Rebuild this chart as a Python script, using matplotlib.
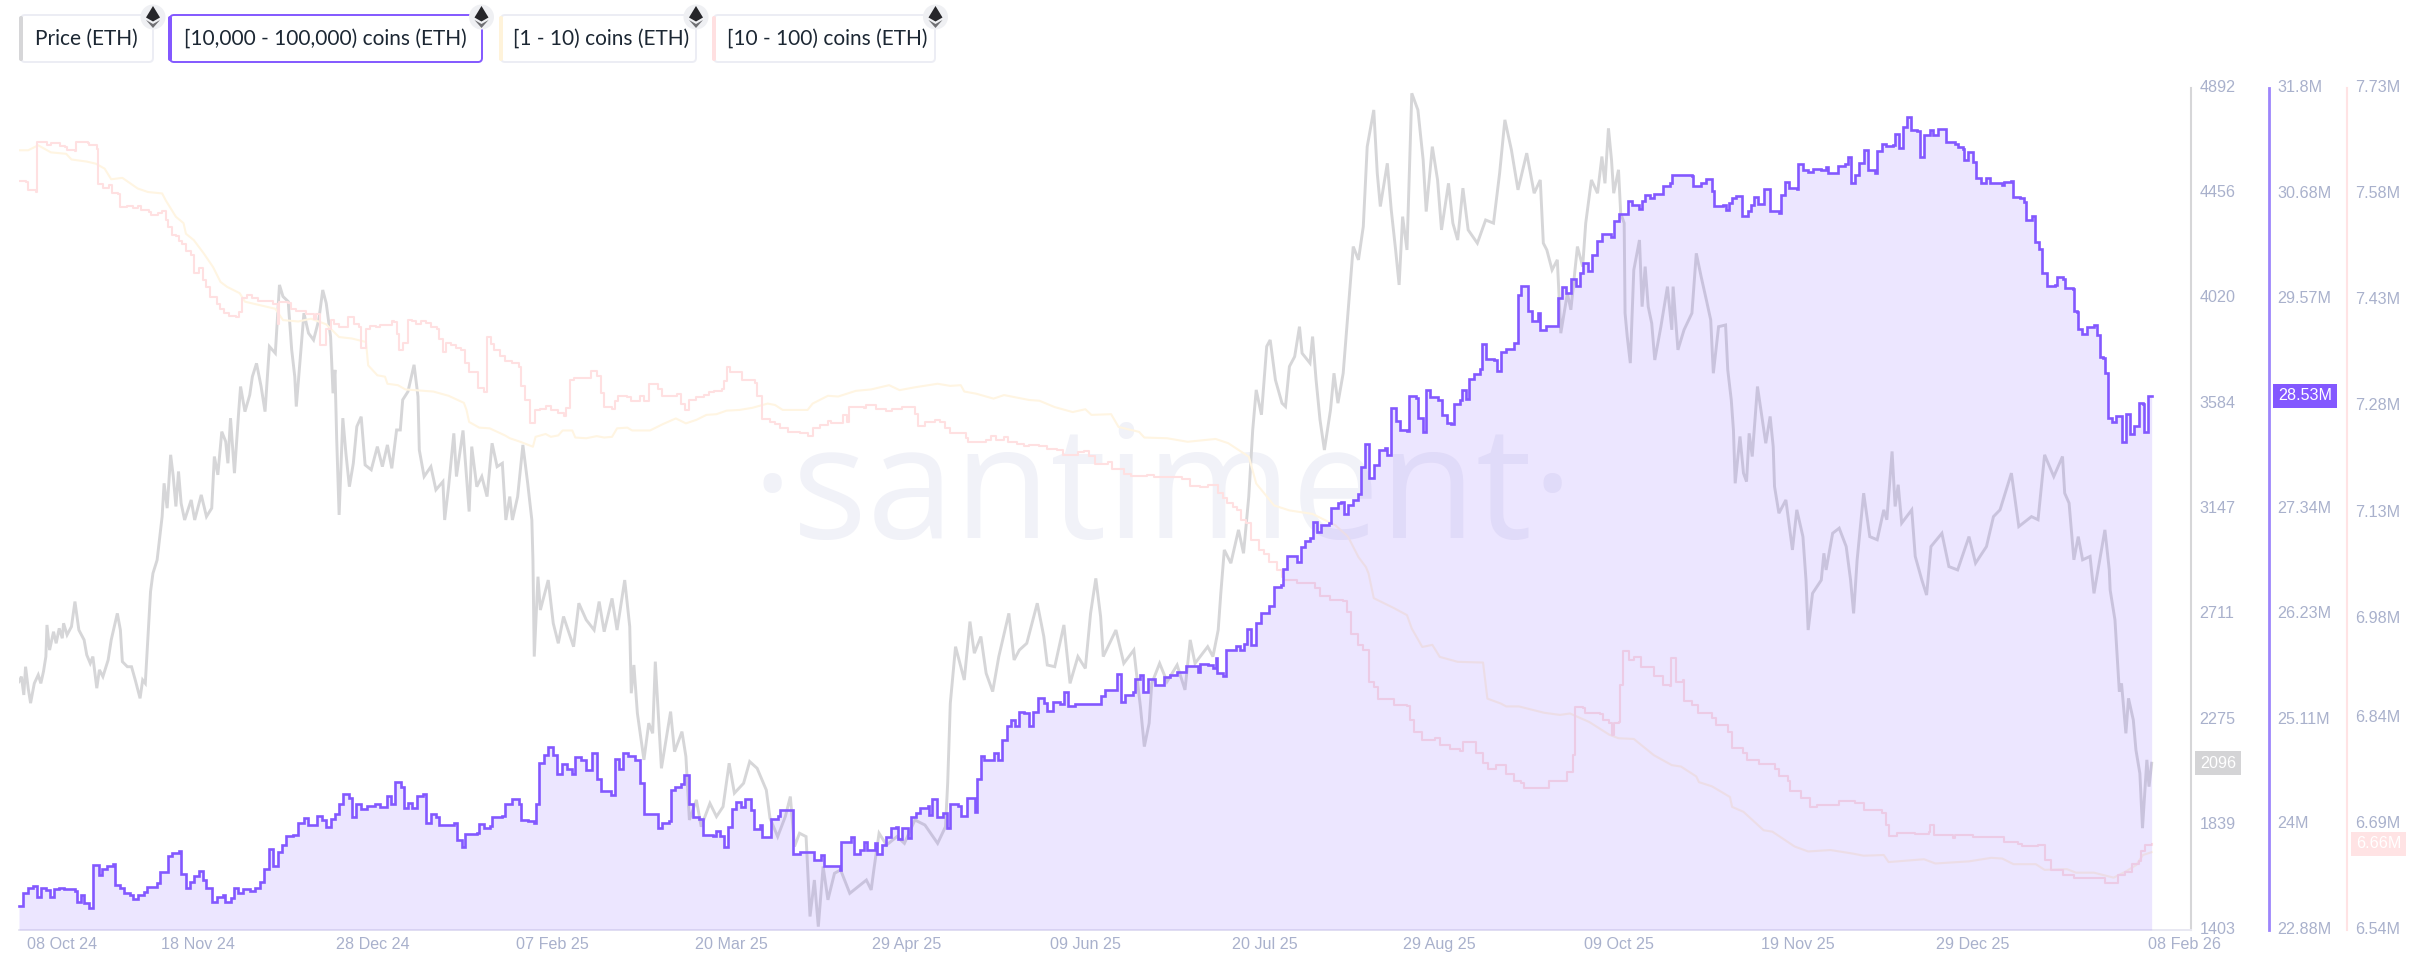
import numpy as np
import pandas as pd
import matplotlib
matplotlib.use("Agg")
import matplotlib.pyplot as plt
from matplotlib.patches import FancyBboxPatch, Circle, Polygon
from matplotlib.transforms import ScaledTranslation

# ---- data: (days since 08 Oct 2024, value) ----
START = pd.Timestamp("2024-10-08")

price_eth = [(0,2432),(0.55,2453),(1.1,2377),(1.5,2494),(2.1,2405),(2.65,2343),(3.5,2425),(4.4,2460),(5,2425),(5.6,2474),(6.15,2536),(6.4,2667),(7,2563),(7.9,2639),(8.5,2591),(9.2,2653),(9.9,2612),(10.2,2674),(11,2626),(12,2660),(12.8,2764),(13.7,2646),(14.9,2605),(15.5,2543),(16.3,2508),(16.9,2536),(17.8,2405),(18.4,2481),(19.2,2453),(20.4,2522),(21.1,2605),(22.5,2715),(23.2,2646),(23.65,2515),(24.8,2494),(25.75,2494),(26.6,2439),(27.7,2363),(28.3,2439),(28.9,2425),(29.5,2619),(30.1,2805),(30.65,2881),(31.6,2936),
(32.75,3116),(33.2,3254),(33.9,3151),(34.7,3372),(35.3,3282),(35.9,3158),(36.5,3303),(37.1,3171),(37.9,3102),(39.4,3185),(40.2,3102),(41.7,3206),(42.9,3116),(44.1,3151),(44.7,3365),(45.5,3289),(46.4,3468),(47.3,3427),(47.8,3337),(48.4,3524),(49.3,3296),(50.3,3558),(50.7,3655),(51.7,3551),(52.8,3620),(53.4,3696),(54.35,3751),(55.4,3655),(56.3,3551),(57.3,3821),(58.65,3793),(59.6,4076),(60.4,4028),(61.6,4007),(62.4,3807),(63.1,3696),(63.45,3572),(64.5,3807),(65.2,3959),(66.25,3876),(67.4,3848),(68.6,3931),(69.5,4055),(70.3,4000),(71.3,3862),(71.85,3627),(72.3,3724),(72.7,3434),(73.25,3123),(74.1,3524),(74.8,3379),(75.6,3240),(76.5,3337),(77.3,3489),(78.3,3530),(79.2,3330),(80.6,3310),(82,3406),(83.15,3323),(84.3,3413),(85.3,3316),(86.4,3475),(87.25,3475),(87.8,3600),(89,3634),(90.4,3745),(91.3,3613),(91.6,3392),(92.7,3282),(94.25,3323),(95.4,3227),(97,3261),(97.4,3102),(98.3,3240),(99.5,3461),(100.1,3282),(101.6,3473),(103,3137),(103.6,3406),(104.75,3240),(105.9,3282),(107.1,3199),(108.25,3420),(109.4,3323),(110.6,3337),(111.4,3102),(112.3,3199),(112.9,3102),(114.1,3199),(115.3,3413),(116.4,3254),(117.35,3102),
(117.6,2936),(117.9,2536),(118.75,2867),(119.3,2729),(121.1,2853),(122.25,2674),(123.4,2591),(124.6,2702),(126.9,2577),(128.1,2757),(129.8,2688),(131.6,2646),(132.75,2764),(133.9,2639),(135.7,2777),(136.85,2646),(138.6,2853),(139.75,2660),(140.1,2384),(140.7,2501),(141.5,2301),(143,2108),(144.1,2260),(145,2218),(145.6,2515),(147,2073),(149.1,2308),(150,2142),(151.7,2225),(152.6,2122),(153.4,1859),(155,1942),(156.1,1831),(158.1,1928),(159.6,1873),(161.1,1914),(162.5,2094),(163.7,1970),(165.8,2011),(167.2,2101),(168.9,2073),(171,1983),(171.85,1866),(173.6,1790),(175.35,1873),(176.5,1956),(177.45,1749),(178.6,1804),
(180.1,1790),(181,1459),(182,1610),(182.9,1417),(184,1666),(185.1,1528),(186.6,1638),(188,1652),(190.1,1555),(193.9,1610),(195,1569),(195.6,1652),(196.8,1804),(198.5,1755),(200.9,1790),(202.6,1762),(205,1859),(207.3,1838),(210.2,1762),(212,1831),(212.5,2011),(213.1,2342),(214.3,2577),(216.3,2439),(217.6,2681),(218.6,2550),(220.1,2619),(221.3,2467),(222.8,2391),(224.2,2536),(226.5,2715),(227.7,2522),(228.9,2563),(230.6,2591),(233,2757),(234.5,2619),(235.3,2501),(237,2494),(239.1,2667),(240.5,2425),(242.3,2536),(244,2487),(245.2,2715),(246.4,2860),(247.5,2701),(248.1,2536),(251,2646),(252.8,2508),(255.1,2563),(255.7,2467),(256.6,2329),(257.5,2163),(258.6,2260),(259.2,2425),(261,2508),(262.7,2432),(265,2501),(266.8,2398),(268,2605),(269.1,2508),(272,2577),(273.2,2536),(274.4,2646),(275,2798),(275.8,2978),
(277.3,2923),(279.05,3061),(280.2,2964),(281.4,3199),(282.3,3475),(283.1,3641),(284.3,3538),(285.5,3821),(286.3,3848),(287.5,3682),(289,3586),(289.8,3572),(290.7,3738),(291.9,3779),(293,3903),(293.6,3793),(295.4,3752),(296,3862),(296.8,3682),(297.7,3517),(298.7,3392),(300.1,3558),(300.9,3710),(301.8,3586),(303,3710),(304.1,3959),(305.3,4235),(306.5,4180),(307.6,4318),(308.5,4649),(310,4801),(310.8,4539),(311.5,4401),(313.1,4580),(314,4387),(315,4221),(315.8,4076),(316.6,4359),(317.6,4221),(318.7,4870),(320.1,4801),(321.3,4594),(322,4380),(323.4,4649),(324.6,4511),(325.5,4304),(327.1,4497),(328.1,4332),(329.2,4262),(330.4,4477),(331.6,4304),(333.7,4249),(335.6,4345),(337.4,4332),(338.8,4539),(340,4760),(341.5,4635),(343,4470),(345,4622),(346.7,4456),(348.1,4511),(348.8,4249),(349.6,4221),(350.8,4138),(352,4180),(352.8,3876),(354.3,4041),(355.1,3973),(356.6,4235),(357.8,4152),
(358.5,4332),(359.8,4511),(361.2,4456),(362.2,4608),(362.9,4497),(363.7,4725),(364.4,4594),(364.9,4456),(366,4553),(366.5,4373),(367.3,4332),(367.5,3959),(368,3862),(368.7,3752),(369.5,4138),(370.8,4262),(371.4,3986),(372.1,4152),(372.8,3986),(373.6,3917),(374.3,3765),(375.7,3903),(377.2,4069),(378.2,3890),(378.5,4069),(379.6,3807),(381,3890),(382.8,3959),(383.8,4207),(384.9,4111),(386.1,4014),(387.1,3931),(387.7,3710),(388.9,3903),(390.5,3910),(391,3724),(391.8,3600),(392.3,3475),(392.7,3254),(393.8,3448),(394.6,3296),(395.3,3261),(395.9,3461),(396.6,3365),(397.8,3655),(398.7,3544),(399.7,3420),(400.7,3531),(401.4,3406),(401.7,3241),(402.7,3130),(404.3,3185),(405.8,2978),(406.8,3144),(408.2,3033),(408.9,2854),(409.4,2646),(410.4,2798),(412.4,2853),(413,2964),(413.5,2895),(415,3047),(416.5,3068),(418.1,2992),(419.1,2854),(419.8,2715),(420.6,2936),(422.1,3213),(423.5,3033),(425.2,3020),(426.7,3144),(427.4,3103),(428.6,3386),(429.3,3158),(430,3248),(430.8,3089),(433.1,3144),(433.9,2951),(435.4,2854),(436.5,2791),(437.5,2992),(440,3047),(441.6,2909),(443.6,2895),(446.2,3033),(447.7,2923),(450.2,2992),(451.8,3116),(453.3,3144),(455.9,3296),(457.6,3075),(460.5,3116),(462,3103),(463.5,3372),(465.6,3282),(467.6,3365),(468.1,3213),(469.1,3172),(470.2,2937),(471.2,3033),(472.2,2937),(473.9,2951),(474.8,2798),(477.3,3061),(478.3,2895),(478.5,2812),(479.6,2688),(480.6,2391),(481.1,2425),(482.1,2218),(482.7,2363),(483.8,2273),(484.4,2149),(485.3,2052),(485.9,1825),(486.9,2108),(487.4,1997),(488,2094)]

holders_10k_100k = [(0,23.13),(0.9,23.27),(2.1,23.33),(3.2,23.35),(4.05,23.23),(5,23.32),(6.15,23.30),(7,23.23),(7.9,23.31),(9.1,23.33),(10.2,23.31),(12.8,23.29),(13.2,23.18),(14.1,23.25),(14.9,23.17),(16.1,23.11),(17,23.57),(18.2,23.46),(19.1,23.53),(20.2,23.56),(21.6,23.58),(22,23.36),(23.1,23.32),(24,23.27),(25.4,23.25),(26.2,23.21),(27.2,23.25),(28.7,23.28),(29.3,23.34),(30.7,23.34),(31.6,23.38),(32.2,23.49),(33.8,23.49),(34.2,23.66),(35,23.70),(36.5,23.72),(37,23.47),(38.2,23.32),(39.1,23.39),(40,23.45),(41.2,23.51),(42,23.41),(42.9,23.32),(44.1,23.18),(45.2,23.23),(46.6,23.25),(47.2,23.18),(48.5,23.22),(49.3,23.33),(50.1,23.27),(51.2,23.31),(52.8,23.29),(54,23.33),(55.2,23.39),(56.1,23.53),(57.1,23.74),(58.1,23.56),(59.2,23.71),(60.2,23.78),(61.2,23.88),(62.7,23.89),(63.9,24.01),(65.1,24.07),(66.1,23.99),(68.2,24.09),(69.4,24.05),(70.3,23.97),(71.5,24.06),(72.3,24.11),(73.2,24.21),(74.2,24.32),(75.4,24.28),(76.2,24.08),(77.1,24.22),(78.3,24.16),(79.7,24.19),(81.4,24.22),(82.6,24.18),(84.1,24.30),(85.1,24.22),(86.1,24.45),(87.3,24.39),(88.1,24.17),(89,24.23),(90,24.17),(91.1,24.30),(92.5,24.32),(93.1,24.01),(94.2,24.11),(95.4,24.08),(96.2,23.99),(99.5,24.01),(100.3,23.83),(101.3,23.76),(102.1,23.90),(104.8,23.91),(105.3,24.0),(106.3,23.96),(107.7,23.98),(108.3,24.08),(110.6,24.09),(111.2,24.22),(112.9,24.27),(114.4,24.21),(114.9,24.05),(116.4,24.03),(117.8,24.01),(118.2,24.21),(119.1,24.65),(120.2,24.73),(121.1,24.82),(122.3,24.73),(123.1,24.53),(124.2,24.64),(125.4,24.59),(126.6,24.53),(127.2,24.71),(128.7,24.68),(129.8,24.58),(131.2,24.75),(132.2,24.48),(133.1,24.35),(135.4,24.31),(136.3,24.69),(137.4,24.59),(138.2,24.75),(139.4,24.72),(140.9,24.68),(142.1,24.44),(142.9,24.11),(145.6,24.11),(146.2,23.96),(147.1,24.01),(148.7,24.03),(149.2,24.36),(150,24.40),(151.4,24.43),(152.2,24.52),(153.2,24.22),(154.3,24.08),(155.7,24.06),(156.4,23.89),(158.8,23.88),(159.4,23.93),(160.4,23.88),(161.3,23.76),(162.3,23.97),(163.2,24.16),(164,24.24),(165.1,24.18),(166.2,24.27),(167.4,24.15),(168.1,23.95),(169.5,23.99),(170.1,23.86),(171.6,23.87),(172.1,24.06),(173.6,24.09),(174.2,24.15),(176.7,24.15),(177.1,23.69),(178.7,23.71),
(181,23.71),(182,23.62),(183.6,23.67),(184.3,23.56),(185.9,23.56),(187.8,23.52),(188,23.81),(190.4,23.87),(191,23.69),(192.5,23.73),(193.3,23.81),(194.1,23.73),(195.9,23.80),(196.4,23.69),(197.4,23.78),(198.3,23.87),(199.5,23.96),(200.6,23.97),(201.1,23.84),(202,23.96),(203.4,23.85),(204.1,24.08),(205.3,24.12),(206.1,24.17),(207.9,24.19),(208.2,24.10),(209,24.27),(210,24.08),(211.4,24.12),(212.3,23.96),(213.1,24.21),(214.9,24.19),(215.5,24.09),(216.9,24.28),(217.8,24.28),(218.7,24.13),(219.2,24.48),(220.1,24.72),(220.9,24.68),(223,24.76),(224,24.68),(225,24.89),(226,25.04),(227.1,25.11),(227.9,25.04),(228.9,25.19),(230,25.18),(231.2,25.04),(232.1,25.19),(233.2,25.34),(234.5,25.29),(235.3,25.20),(236.5,25.30),(238.2,25.27),(239.1,25.40),(240,25.25),(241.7,25.27),(243.5,25.27),(245.8,25.27),(247.5,25.36),(248.4,25.42),(250.8,25.42),(251.3,25.59),(252.2,25.30),(253.1,25.37),(254.8,25.40),(255.4,25.54),(256.5,25.58),(257.1,25.40),(258.3,25.54),(260,25.48),(261.3,25.48),(262.1,25.56),(263.3,25.58),(265,25.61),(267,25.68),(268.8,25.68),(269.7,25.61),(270.3,25.70),(272,25.69),(273.2,25.66),(273.8,25.76),(274.1,25.60),(275.5,25.57),(276.1,25.85),(278.5,25.89),(279.3,25.85),(280.2,25.91),(281,26.07),(282,25.90),(283.1,26.13),(284.1,26.24),(286,26.31),(287.2,26.51),(288.7,26.54),(289.3,26.70),(290.1,26.84),(291.3,26.84),(292.5,26.78),
(293.3,26.94),(294.2,27.0),(295.4,27.03),(296,27.2),(297.1,27.1),(298,27.17),(299.7,27.19),(300.1,27.35),(301.8,27.40),(302.6,27.41),(303.2,27.29),(304.1,27.38),(305.3,27.44),(306.5,27.50),(307.1,27.78),(307.9,28.03),(308.8,27.67),(310,27.81),(311.1,27.97),(312.5,27.99),(313.1,27.91),(314,28.41),(315,28.27),(316,28.18),(317.6,28.17),(318.1,28.54),(319.7,28.52),(320.2,28.30),(321.3,28.16),(322,28.60),(322.8,28.53),(324.6,28.50),(325.5,28.34),(326.7,28.25),(327.7,28.24),(328.3,28.45),(329.8,28.49),(330.2,28.60),(331,28.51),(331.8,28.72),(333,28.77),(334.2,28.82),(334.8,29.09),(335.6,28.93),(337.4,28.92),(338.3,28.80),(339.1,29.0),(340.3,29.04),(342,29.10),(342.9,29.61),(343.8,29.70),(344.6,29.70),(345.2,29.44),(346.1,29.33),(347.5,29.42),(348.1,29.24),(349.3,29.28),(351.7,29.28),(352.2,29.58),(353.1,29.69),(354.1,29.63),(355.1,29.78),(356.3,29.70),(357.2,29.84),(357.8,29.95),(359,29.86),(359.9,30.03),(361,30.18),
(362.2,30.25),(364.2,30.22),(364.9,30.39),(366,30.46),(367.7,30.47),(368.2,30.60),(369,30.56),(370.8,30.52),(371.4,30.60),(372.1,30.67),(373.1,30.63),(374.1,30.68),(375.7,30.68),(376.2,30.76),(377.7,30.79),(378.2,30.88),(382.8,30.87),(383.1,30.76),(384.9,30.79),(386.1,30.84),(386.9,30.84),(387.4,30.71),(387.9,30.55),(389.8,30.56),(390.5,30.51),(391.2,30.58),(392,30.63),(393,30.66),(393.9,30.66),(394.3,30.44),(395.6,30.50),(396.3,30.56),(397.1,30.64),(397.9,30.57),(399.2,30.73),(400.7,30.50),(402.7,30.48),(403.2,30.67),(404,30.80),(405,30.74),(406.8,30.73),(407.1,31.0),(408.2,30.93),(409.4,30.91),(410.4,30.94),(412.4,30.93),(413.5,30.96),(414,30.90),(415.7,30.90),(416.2,30.97),(417.9,31.0),(418.4,31.07),(419.1,30.79),(420.1,30.88),(421.1,31.01),(422.1,31.14),(423,30.93),(424.7,30.90),(425.2,31.13),(426.2,31.21),(427.3,31.19),(428.8,31.20),(429.3,31.31),(430.1,31.16),(431,31.39),(432.1,31.49),(432.9,31.36),(434.4,31.34),(435.1,31.07),(435.9,31.30),(437.3,31.35),(438,31.30),(439.2,31.37),(440.7,31.37),(441,31.23),(442.9,31.21),(443.6,31.18),(444.9,31.15),(445.1,31.04),(445.9,31.12),(447,31.12),(447.2,31.02),(447.9,30.85),(449,30.79),(450,30.85),(451,30.79),(453.8,30.77),(454.3,30.80),(455.7,30.82),(456.2,30.64),(457.9,30.63),(458.9,30.59),(459.2,30.40),(460.7,30.44),(461.2,30.17),(462.2,30.09),(463,29.84),(464,29.70),(465.9,29.71),(466.3,29.80),(467.8,29.78),(468.1,29.68),(469.9,29.67),(470.2,29.44),(471,29.43),(471.2,29.25),(472,29.19),(472.9,29.19),(473.2,29.27),(474.8,29.29),(475.5,29.18),(476.1,28.95),(476.8,28.94),(477.3,28.78),(477.8,28.78),(478.1,28.30),(479,28.26),(479.9,28.33),(480.7,28.33),(481.1,28.05),(481.9,28.05),(482.2,28.35),(482.9,28.35),(483.1,28.13),(483.9,28.22),(484.8,28.22),(485.2,28.46),(486,28.45),(486.3,28.16),(487,28.16),(487.2,28.54),(488,28.54)]

holders_10_100 = [(0,7.599),(1.5,7.597),(2.1,7.586),(3.8,7.583),(4.05,7.654),(5.9,7.653),(6.4,7.649),(7.3,7.652),(8.8,7.652),(9.4,7.648),(10.6,7.646),(11,7.642),(12.8,7.641),(13.15,7.654),(15.7,7.652),(16.1,7.649),(17.8,7.644),(18.05,7.595),(19,7.594),(19.3,7.588),(20.7,7.593),(21.3,7.582),(22.7,7.580),(23.1,7.562),(24.8,7.563),(26.2,7.560),(27.15,7.563),(28,7.558),(29.8,7.555),(30.2,7.550),(31.8,7.553),(32.75,7.556),(33.6,7.544),(34.15,7.533),(35,7.522),(35.9,7.521),(36.5,7.514),(37.4,7.509),(38.2,7.500),(39.4,7.494),(40,7.468),(41.2,7.475),(42,7.459),(42.9,7.449),(43.7,7.435),(45.2,7.425),(46.1,7.418),(47,7.412),(48.15,7.408),(49.6,7.406),(50.3,7.414),(51.1,7.433),(52.25,7.437),(53.4,7.433),(54.6,7.429),(56.9,7.429),(58.1,7.425),(59.2,7.397),(59.6,7.428),(61.6,7.426),(62.2,7.418),(63.3,7.415),(65.7,7.411),(66.8,7.411),(67.4,7.404),(68,7.411),(68.9,7.367),(69.75,7.367),(70.3,7.390),(71.5,7.402),(72.1,7.396),(73.25,7.392),(74.8,7.392),(75.2,7.407),(76.15,7.406),(76.75,7.397),(77.9,7.392),(78.15,7.363),(78.85,7.363),(79.3,7.389),(80.25,7.394),(81.8,7.392),(82.6,7.395),(84.6,7.395),(85.3,7.400),(85.7,7.399),(86.4,7.383),(87,7.360),(87.8,7.369),(88.7,7.369),(89,7.402),(90,7.401),(90.75,7.396),(91.9,7.401),(93.1,7.398),(94.25,7.392),(95.65,7.389),(96,7.375),(97,7.357),(97.75,7.370),(98.9,7.367),(100.1,7.363),(101.25,7.360),(102.1,7.341),(103,7.329),(104.75,7.328),(105.1,7.306),(106.3,7.301),(107.1,7.378),(107.9,7.368),(108.8,7.360),(110,7.351),(111.2,7.344),(112.9,7.342),(114.4,7.335),(114.9,7.309),(115.8,7.289),(117,7.257),(118,7.275),(119.3,7.277),(120.5,7.281),(121.7,7.275),(123.4,7.271),(124.6,7.266),(125.2,7.278),(126,7.317),(126.9,7.320),(130.4,7.320),(131,7.330),(132.2,7.323),(133.1,7.299),(133.9,7.279),(135.7,7.276),(136.3,7.287),(137.1,7.295),(139.2,7.293),(140.1,7.288),(141.5,7.287),(142.1,7.294),(142.9,7.288),(144.1,7.311),(145.6,7.312),(146.2,7.304),(147.1,7.294),(148.5,7.295),(150.6,7.297),(151.4,7.284),(152.4,7.275),(153.2,7.289),(155,7.293),(156.7,7.296),(157.85,7.301),(159,7.302),(160.8,7.304),(161.3,7.316),(161.9,7.335),(162.75,7.328),(164.6,7.328),(165.4,7.317),(166.6,7.318),(168.35,7.313),(168.9,7.295),(169.5,7.294),(170.1,7.262),(171.85,7.258),(173,7.255),(174.2,7.250),(175.9,7.244),(178.6,7.242),
(180.45,7.238),(181.6,7.249),(183.4,7.254),(185.1,7.260),(185.9,7.256),(187.8,7.256),(188.6,7.268),(189.4,7.258),(190,7.279),(193.3,7.278),(193.9,7.282),(195.6,7.282),(196.2,7.276),(198.3,7.273),(199.7,7.277),(201.5,7.276),(202,7.279),(203.6,7.279),(205,7.269),(205.8,7.253),(207.3,7.258),(208.8,7.258),(209.6,7.261),(210.8,7.258),(212,7.249),(213.1,7.242),(215.5,7.243),(216.6,7.235),(217.2,7.229),(219.5,7.229),(221.3,7.232),(222.5,7.238),(223.6,7.232),(225.4,7.237),(226.2,7.229),(228.3,7.227),(230,7.224),(231.2,7.226),(233.5,7.224),(235.3,7.220),(237.6,7.218),(238.8,7.211),(240.5,7.211),(242.3,7.216),(243.7,7.217),(244.9,7.210),(246.1,7.199),(247.5,7.199),(249.3,7.202),(250.1,7.192),(251.6,7.192),(252.8,7.184),(254.5,7.181),(256.3,7.182),(258,7.183),(259.8,7.180),(263.9,7.180),(266.2,7.177),(268,7.168),(270.3,7.166),(272,7.169),(273.4,7.169),(274.4,7.157),(275.5,7.150),(276.5,7.143),(277.7,7.138),(278.8,7.133),(279.6,7.119),(280.8,7.115),(282,7.091),(283.7,7.077),(284.9,7.072),(286,7.060),(287.8,7.049),(289,7.039),
(289.55,7.035),(292.5,7.030),(296.5,7.023),(297.7,7.012),(300.05,7.007),(303,7.005),(303.8,6.990),(304.7,6.959),(306.5,6.943),(307.6,6.936),(308.8,6.891),(310,6.884),(310.9,6.867),(313.5,6.866),(314.6,6.858),(317.6,6.856),(318.4,6.837),(319.3,6.820),(321.1,6.809),(324,6.811),(325.1,6.801),(327.5,6.796),(329.8,6.793),(330.4,6.806),(332.1,6.805),(333.3,6.790),(335,6.776),(336.2,6.768),(338,6.773),(340.3,6.761),(342,6.750),(343.8,6.748),(344.4,6.740),(346.7,6.740),(350.2,6.750),(352.6,6.750),(354.3,6.764),(355.5,6.787),(356,6.855),(357.8,6.854),(358.4,6.846),(361.7,6.845),
(362.4,6.837),(363.9,6.832),(364.4,6.816),(364.9,6.833),(366,6.834),(366.3,6.886),(367,6.935),(368,6.935),(368.5,6.922),(369.5,6.926),(371.1,6.912),(372.6,6.912),(374.1,6.899),(376.2,6.886),(377.7,6.885),(378,6.925),(378.9,6.925),(379.2,6.891),(380.8,6.893),(381.1,6.864),(382.8,6.858),(384.2,6.846),(387.4,6.839),(388.4,6.830),(391,6.820),(392,6.797),(394.6,6.790),(395.3,6.780),(398.1,6.775),(401.7,6.768),(402.7,6.757),(404.8,6.750),(405.3,6.736),(407.8,6.726),(409.9,6.714),(411.4,6.717),(416.5,6.722),(420.1,6.719),(422.1,6.710),(426.2,6.705),(427.3,6.688),(428,6.673),(429.8,6.677),(433.9,6.675),(437,6.679),(437.2,6.688),(437.8,6.688),(438.2,6.674),(442.6,6.670),(443.1,6.674),(447.2,6.671),(453.3,6.672),(454.3,6.665),(457.4,6.662),(458.4,6.659),(462,6.660),(463.5,6.639),(465,6.625),(467.6,6.618),(470.2,6.613),(473.2,6.613),(477.3,6.606),(479.9,6.607),(480.4,6.618),(481.9,6.622),(483.4,6.633),(485,6.637),(485.5,6.651),(486.5,6.660),(488,6.662)]

holders_1_10 = [(0,7.642),(2.1,7.642),(4.4,7.649),(6.15,7.643),(7.3,7.639),(10.8,7.637),(12,7.629),(15.5,7.626),(17.6,7.623),(19.6,7.616),(21.1,7.601),(23.65,7.603),(26,7.593),(27.15,7.588),(29.5,7.583),(32.75,7.581),(33.6,7.571),(34.7,7.560),(35.9,7.548),(37.65,7.539),(38.2,7.524),(40,7.515),(42.3,7.496),(44.4,7.477),(46.1,7.456),(47.6,7.449),(50.5,7.440),(51.7,7.428),(55.2,7.423),(58.65,7.418),(60.4,7.402),(63.9,7.400),(66.8,7.404),(70.3,7.396),(73.25,7.378),(76.15,7.376),(79.4,7.371),(79.9,7.338),(82,7.324),(83.75,7.322),(84.3,7.312),(86.7,7.310),(88.4,7.304),(94.8,7.301),(98.3,7.295),(101.8,7.285),(102.4,7.275),(103,7.258),(105.3,7.250),(107.7,7.249),(111.2,7.239),(112.3,7.235),(114.7,7.230),(117.6,7.223),(118.2,7.237),(120.5,7.241),(121.7,7.237),(123.4,7.239),(124.4,7.246),(126.6,7.246),(127.3,7.236),(129.8,7.235),(132.2,7.238),(133.9,7.236),(135.7,7.237),(136.85,7.249),(139.2,7.250),(140.3,7.246),(144.4,7.246),(147.35,7.255),(150.3,7.263),(152.6,7.256),(155,7.261),(157.3,7.268),(159.6,7.269),(161.9,7.274),(164.85,7.275),(167.8,7.278),(171.3,7.284),(173,7.282),(174.75,7.275),(178.6,7.275),
(180.45,7.275),(181.6,7.284),(185.1,7.295),(187.45,7.294),(191.5,7.302),(195,7.304),(199.1,7.310),(201.5,7.303),(205,7.307),(210.2,7.312),(213.1,7.309),(215.5,7.310),(216.3,7.301),(219,7.298),(223,7.291),(225.4,7.296),(231.2,7.289),(233.5,7.288),(237,7.279),(241.1,7.272),(244,7.276),(245.4,7.268),(249.9,7.269),(251.6,7.251),(256.3,7.244),(257.5,7.236),(262.7,7.235),(267.4,7.230),(273.8,7.234),(276.7,7.228),(281.4,7.209),(283.1,7.171),(287.2,7.140),(290.7,7.133),(296,7.128),(301.2,7.112),(304.1,7.096),(306.5,7.067),(308.2,7.053),
(308.8,7.044),(310,7.009),(314.6,6.995),(317.6,6.985),(318.7,6.966),(321.1,6.940),(323.4,6.943),(325.1,6.926),(329.2,6.919),(335,6.918),(336,6.867),(339.1,6.860),(340.3,6.856),(343.2,6.856),(349,6.847),(352.6,6.844),(354.9,6.846),(359.3,6.834),(363.9,6.816),(366,6.811),(369.5,6.810),(374.1,6.787),(378.2,6.773),(380.3,6.771),(383.8,6.757),(384.4,6.749),(387.4,6.743),(391.5,6.728),(392,6.714),(394.6,6.707),(399.2,6.681),(401.2,6.679),(406.3,6.658),(409.4,6.651),(414.5,6.653),(419.6,6.648),(422.1,6.645),(426.7,6.646),(427.8,6.636),(435.9,6.640),(438.5,6.634),(446.2,6.637),(451.3,6.642),(453.8,6.641),(456.4,6.633),(461.5,6.633),(463.5,6.625),(468.6,6.626),(470.7,6.621),(474.8,6.621),(479.3,6.614),(481.9,6.622),(484.5,6.632),(486,6.646),(488,6.650)]

date_labels = ["08 Oct 24","18 Nov 24","28 Dec 24","07 Feb 25","20 Mar 25","29 Apr 25","09 Jun 25","20 Jul 25","29 Aug 25","09 Oct 25","19 Nov 25","29 Dec 25","08 Feb 26"]
date_ticks = ["2024-10-08","2024-11-18","2024-12-28","2025-02-07","2025-03-20","2025-04-29","2025-06-09","2025-07-20","2025-08-29","2025-10-09","2025-11-19","2025-12-29","2026-02-08"]

price_ticks = [1403,1839,2275,2711,3147,3584,4020,4456,4892]
holder_ticks = [22.88,24,25.11,26.23,27.34,28.46,29.57,30.68,31.8]
holder_tick_labels = ["22.88M","24M","25.11M","26.23M","27.34M","28.46M","29.57M","30.68M","31.8M"]
small_ticks = [6.54,6.69,6.84,6.98,7.13,7.28,7.43,7.58,7.73]
small_tick_labels = ["6.54M","6.69M","6.84M","6.98M","7.13M","7.28M","7.43M","7.58M","7.73M"]
legend_names = ["Price (ETH)","[10,000 - 100,000) coins (ETH)","[1 - 10) coins (ETH)","[10 - 100) coins (ETH)"]

# ---- style ----
W, H, DPI = 2422, 963, 100
C_PRICE, C_HOLD, C_YEL, C_PINK = "#d6d6d8", "#8358ff", "#fff5e2", "#ffe0e1"
C_TICK = "#a9b1cc"
UI_FONT = ["Lato", "DejaVu Sans"]
AX_FONT = ["Liberation Sans", "DejaVu Sans"]


def split(series):
    arr = np.array(series, dtype=float)
    return START + pd.to_timedelta(arr[:, 0], unit="D"), arr[:, 1]


fig = plt.figure(figsize=(W / DPI, H / DPI), dpi=DPI, facecolor="white")
L, R, T, B = 19, 2191, 88, 930
rect = [L / W, 1 - B / H, (R - L) / W, (B - T) / H]
ax = fig.add_axes(rect, zorder=1, facecolor="white")
ax3 = fig.add_axes(rect, zorder=2, facecolor="none", sharex=ax)
ax2 = fig.add_axes(rect, zorder=3, facecolor="none", sharex=ax)

ax.set_xlim(START, START + pd.Timedelta(days=497))
ax.set_ylim(1403, 4892)
ax2.set_ylim(22.88, 31.8)
ax3.set_ylim(6.54, 7.73)

# watermark
ax.text((1163 - L) / (R - L), 1 - (497 - T) / (B - T), "·santiment·",
        transform=ax.transAxes, ha="center", va="center", fontsize=113,
        family=["Open Sans", "DejaVu Sans"], fontweight="normal", color="#f1f2f8", zorder=0)

x, y = split(price_eth)
ax.plot(x, y, color=C_PRICE, lw=2.1, solid_joinstyle="miter", zorder=2)
x, y = split(holders_1_10)
ax3.plot(x, y, color=C_YEL, lw=1.5, zorder=2)
x, y = split(holders_10_100)
ax3.plot(x, y, color=C_PINK, lw=1.5, drawstyle="steps-post", zorder=3)
x, y = split(holders_10k_100k)
ax2.fill_between(x, y, 22.88, step="post", color=C_HOLD, alpha=0.15, lw=0, zorder=1)
ax2.plot(x, y, color=C_HOLD, lw=1.9, drawstyle="steps-post", solid_joinstyle="miter", zorder=4, clip_on=False)

# axes
for a in (ax, ax2, ax3):
    for s in a.spines.values():
        s.set_visible(False)
    a.yaxis.tick_right()
    a.yaxis.set_label_position("right")
ax.spines["right"].set_visible(True)
ax.spines["right"].set_color("#d6d6d8")
ax.spines["right"].set_linewidth(1.5)
ax.spines["bottom"].set_visible(True)
ax.spines["bottom"].set_color("#e8e8f2")
ax.spines["bottom"].set_linewidth(1.4)
ax2.spines["right"].set_visible(True)
ax2.spines["right"].set_position(("axes", (2269 - L) / (R - L)))
ax2.spines["right"].set_color("#9d85fb")
ax2.spines["right"].set_linewidth(2)
ax3.spines["right"].set_visible(True)
ax3.spines["right"].set_position(("axes", (2347 - L) / (R - L)))
ax3.spines["right"].set_color("#ffe3e4")
ax3.spines["right"].set_linewidth(1.5)

up = ScaledTranslation(0, 2 / DPI, fig.dpi_scale_trans)
ax.set_yticks(price_ticks)
ax.set_yticklabels([str(v) for v in price_ticks])
ax2.set_yticks(holder_ticks)
ax2.set_yticklabels(holder_tick_labels)
ax3.set_yticks(small_ticks)
ax3.set_yticklabels(small_tick_labels)
for a in (ax, ax2, ax3):
    a.tick_params(axis="y", length=0, pad=6.2, labelcolor=C_TICK, labelsize=11.6)
    for lab in a.get_yticklabels():
        lab.set_fontfamily(AX_FONT)
        lab.set_transform(lab.get_transform() + up)

ax.set_xticks(pd.to_datetime(date_ticks))
ax.set_xticklabels(date_labels)
ax.tick_params(axis="x", length=0, pad=5, labelcolor=C_TICK, labelsize=11.6)
ax2.tick_params(axis="x", length=0, labelbottom=False)
ax3.tick_params(axis="x", length=0, labelbottom=False)
labs = ax.get_xticklabels()
for lab in labs:
    lab.set_fontfamily(AX_FONT)
labs[0].set_ha("left")
labs[0].set_transform(labs[0].get_transform() + ScaledTranslation(8 / DPI, 0, fig.dpi_scale_trans))
labs[-1].set_ha("left")
labs[-1].set_transform(labs[-1].get_transform() + ScaledTranslation(-4 / DPI, 0, fig.dpi_scale_trans))


# last-value badges
def badge(a, xpx, value, text, bg, pad=0.28):
    t = a.get_yaxis_transform()
    a.text((xpx - L) / (R - L), value, text, transform=t, ha="left", va="center", color="white",
           fontsize=11.6, family=AX_FONT, clip_on=False, zorder=10,
           bbox=dict(boxstyle=f"square,pad={pad}", fc=bg, ec="none"))


badge(ax, 2200, price_eth[-1][1], "2096", "#d4d4d6")
badge(ax2, 2278, holders_10k_100k[-1][1], "28.53M", "#8358ff")
badge(ax3, 2356, holders_10_100[-1][1], "6.66M", "#ffe3e4")

# legend chips in an overlay in pixel space
ov = fig.add_axes([0, 0, 1, 1], zorder=5, facecolor="none")
ov.set_xlim(0, W)
ov.set_ylim(H, 0)
ov.axis("off")
chips = [(19, 155, 35, 153, "#d6d6d8", "#ecedf4"),
         (168, 484, 184, 481.5, "#8358ff", "#8358ff"),
         (499, 698, 513, 696, "#fff3da", "#ecedf4"),
         (712, 937, 727, 935.5, "#ffe0e1", "#ecedf4")]
for name, (x0, x1, tx, ix, accent, edge) in zip(legend_names, chips):
    ov.add_patch(FancyBboxPatch((x0 + 2, 15), x1 - x0 - 4, 47, boxstyle="round,pad=0,rounding_size=4",
                                fc="white", ec=edge, lw=1.4, zorder=1))
    ov.add_patch(FancyBboxPatch((x0, 16), 4, 45, boxstyle="round,pad=0,rounding_size=2",
                                fc=accent, ec="none", zorder=2))
    ov.text(tx, 39, name, fontsize=15, family=UI_FONT, color="#1c2733", va="center", ha="left", zorder=3)
    ov.add_patch(Circle((ix, 17), 12.5, fc="#eff0f3", ec="none", zorder=4))
    ov.add_patch(Polygon([(ix, 6), (ix + 7, 17.5), (ix, 21.5), (ix - 7, 17.5)], fc="#26262a", ec="none", zorder=5))
    ov.add_patch(Polygon([(ix - 7, 20), (ix, 24), (ix + 7, 20), (ix, 28)], fc="#6f6f73", ec="none", zorder=5))

fig.savefig("out.png", dpi=DPI, facecolor="white")
